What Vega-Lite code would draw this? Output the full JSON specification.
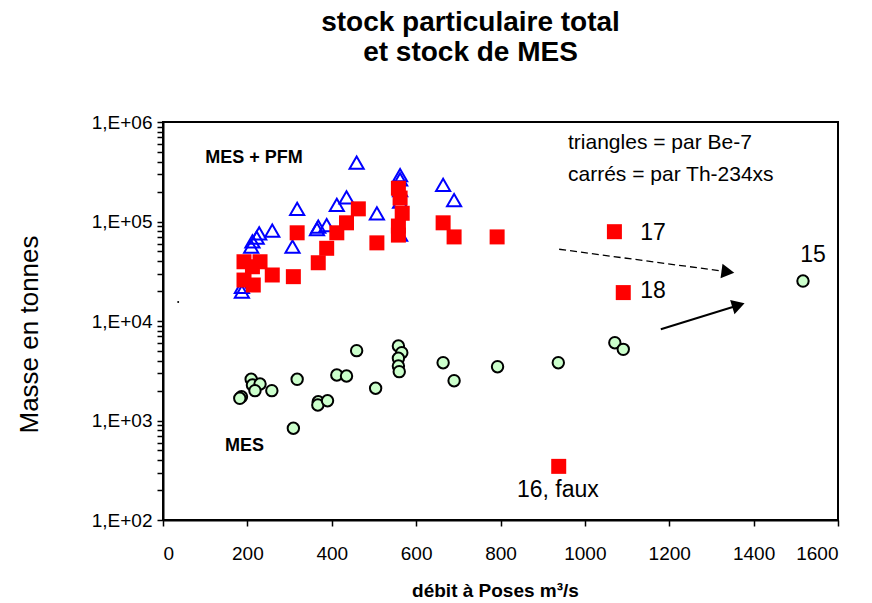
{
  "$schema": "https://vega.github.io/schema/vega-lite/v6.json",
  "width": 675,
  "height": 398,
  "autosize": {"type": "none"},
  "padding": {"left": 163, "top": 122, "right": 34, "bottom": 83},
  "background": "white",
  "config": {
    "font": "Liberation Sans",
    "view": {"stroke": "black", "strokeWidth": 2},
    "axis": {"grid": false, "domainColor": "black", "domainWidth": 2, "tickColor": "black", "tickWidth": 1.5, "labelColor": "black", "titleColor": "black", "labelFont": "Liberation Sans", "titleFont": "Liberation Sans"}
  },
  "title": {
    "text": ["stock particulaire total", "et stock de MES"],
    "font": "Liberation Sans",
    "fontSize": 28,
    "fontWeight": "bold",
    "color": "black",
    "anchor": "middle",
    "dx": -30,
    "offset": 46,
    "lineHeight": 30
  },
  "datasets": {
    "points": [
      {"series": "Be-7", "x": 459, "y": 390000},
      {"series": "Be-7", "x": 562, "y": 293000},
      {"series": "Be-7", "x": 562, "y": 265000},
      {"series": "Be-7", "x": 562, "y": 207000},
      {"series": "Be-7", "x": 562, "y": 158000},
      {"series": "Be-7", "x": 562, "y": 74000},
      {"series": "Be-7", "x": 664, "y": 233000},
      {"series": "Be-7", "x": 690, "y": 164000},
      {"series": "Be-7", "x": 435, "y": 175000},
      {"series": "Be-7", "x": 412, "y": 147000},
      {"series": "Be-7", "x": 507, "y": 121000},
      {"series": "Be-7", "x": 318, "y": 134000},
      {"series": "Be-7", "x": 388, "y": 92000},
      {"series": "Be-7", "x": 368, "y": 89000},
      {"series": "Be-7", "x": 365, "y": 84000},
      {"series": "Be-7", "x": 307, "y": 56000},
      {"series": "Be-7", "x": 259, "y": 81000},
      {"series": "Be-7", "x": 228, "y": 76000},
      {"series": "Be-7", "x": 222, "y": 69000},
      {"series": "Be-7", "x": 212, "y": 63000},
      {"series": "Be-7", "x": 209, "y": 56000},
      {"series": "Be-7", "x": 187, "y": 22000},
      {"series": "Be-7", "x": 187, "y": 19700},
      {"series": "Th-234xs", "x": 192, "y": 39400},
      {"series": "Th-234xs", "x": 230, "y": 39400},
      {"series": "Th-234xs", "x": 212, "y": 35100},
      {"series": "Th-234xs", "x": 192, "y": 25800},
      {"series": "Th-234xs", "x": 214, "y": 23000},
      {"series": "Th-234xs", "x": 259, "y": 29000},
      {"series": "Th-234xs", "x": 309, "y": 27900},
      {"series": "Th-234xs", "x": 318, "y": 77000},
      {"series": "Th-234xs", "x": 368, "y": 38500},
      {"series": "Th-234xs", "x": 388, "y": 53800},
      {"series": "Th-234xs", "x": 412, "y": 77000},
      {"series": "Th-234xs", "x": 435, "y": 97000},
      {"series": "Th-234xs", "x": 463, "y": 134000},
      {"series": "Th-234xs", "x": 507, "y": 61000},
      {"series": "Th-234xs", "x": 558, "y": 216000},
      {"series": "Th-234xs", "x": 562, "y": 172000},
      {"series": "Th-234xs", "x": 567, "y": 121000},
      {"series": "Th-234xs", "x": 558, "y": 90000},
      {"series": "Th-234xs", "x": 558, "y": 73000},
      {"series": "Th-234xs", "x": 664, "y": 97000},
      {"series": "Th-234xs", "x": 690, "y": 70000},
      {"series": "Th-234xs", "x": 792, "y": 70000},
      {"series": "Th-234xs", "x": 1070, "y": 79000},
      {"series": "Th-234xs", "x": 1091, "y": 19300},
      {"series": "Th-234xs", "x": 938, "y": 346},
      {"series": "MES", "x": 186, "y": 1734},
      {"series": "MES", "x": 182, "y": 1671},
      {"series": "MES", "x": 209, "y": 2594},
      {"series": "MES", "x": 212, "y": 2275},
      {"series": "MES", "x": 230, "y": 2328},
      {"series": "MES", "x": 218, "y": 1995},
      {"series": "MES", "x": 258, "y": 1995},
      {"series": "MES", "x": 318, "y": 2594},
      {"series": "MES", "x": 309, "y": 836},
      {"series": "MES", "x": 368, "y": 1545},
      {"series": "MES", "x": 367, "y": 1432},
      {"series": "MES", "x": 390, "y": 1581},
      {"series": "MES", "x": 412, "y": 2864},
      {"series": "MES", "x": 435, "y": 2800},
      {"series": "MES", "x": 459, "y": 5035},
      {"series": "MES", "x": 504, "y": 2108},
      {"series": "MES", "x": 558, "y": 5610},
      {"series": "MES", "x": 566, "y": 4808},
      {"series": "MES", "x": 558, "y": 4217},
      {"series": "MES", "x": 558, "y": 3532},
      {"series": "MES", "x": 560, "y": 3097},
      {"series": "MES", "x": 664, "y": 3811},
      {"series": "MES", "x": 690, "y": 2512},
      {"series": "MES", "x": 793, "y": 3475},
      {"series": "MES", "x": 937, "y": 3811},
      {"series": "MES", "x": 1071, "y": 6053},
      {"series": "MES", "x": 1091, "y": 5190},
      {"series": "MES", "x": 1517, "y": 25200}
    ],
    "arrows": [
      {"arrow": "dashed", "x": 939, "y": 52600},
      {"arrow": "dashed", "x": 1339, "y": 31200},
      {"arrow": "solid", "x": 1180, "y": 8260},
      {"arrow": "solid", "x": 1364, "y": 14400}
    ],
    "labels": [
      {"style": "note", "label": "triangles = par Be-7", "x": 960, "y": 615000},
      {"style": "note", "label": "carrés = par Th-234xs", "x": 960, "y": 293000},
      {"style": "num", "label": "17", "x": 1131, "y": 76600},
      {"style": "num", "label": "18", "x": 1131, "y": 20000},
      {"style": "center", "label": "15", "x": 1541, "y": 46000},
      {"style": "center", "label": "16, faux", "x": 936, "y": 200},
      {"style": "bold", "label": "MES + PFM", "x": 100, "y": 435000},
      {"style": "bold", "label": "MES", "x": 147, "y": 555}
    ],
    "stray": [
      {"x": 36, "y": 15500}
    ]
  },
  "layer": [
    {
      "data": {"name": "points"},
      "transform": [{"filter": "datum.series === 'Be-7'"}],
      "mark": {"type": "point", "shape": "triangle-up", "filled": false, "stroke": "#0000ff", "strokeWidth": 2, "size": 200, "opacity": 1},
      "encoding": {
        "x": {"field": "x", "type": "quantitative", "scale": {"domain": [0, 1600], "nice": false},
          "axis": {"values": [0, 200, 400, 600, 800, 1000, 1200, 1400, 1600], "format": "d", "labelFontSize": 19, "tickSize": 6, "labelPadding": 18, "title": "débit à Poses m³/s", "titleFontSize": 19, "titleFontWeight": "bold", "titleX": 332, "titleY": 70, "titleBaseline": "middle"}},
        "y": {"field": "y", "type": "quantitative", "scale": {"type": "log", "domain": [100, 1000000], "nice": false},
          "axis": {"values": [100,200,300,400,500,600,700,800,900,1000,2000,3000,4000,5000,6000,7000,8000,9000,10000,20000,30000,40000,50000,60000,70000,80000,90000,100000,200000,300000,400000,500000,600000,700000,800000,900000,1000000],
            "labelExpr": "abs(log(datum.value)/LN10 - round(log(datum.value)/LN10)) < 0.001 ? '1,E+0' + round(log(datum.value)/LN10) : ''",
            "labelFontSize": 19, "tickSize": 6, "labelPadding": 5, "labelOverlap": false,
            "title": "Masse en tonnes", "titleFontSize": 26, "titleFontWeight": "normal", "titleX": -134, "titleY": 212, "titleAngle": -90, "titleAlign": "center", "titleBaseline": "middle"}}
      }
    },
    {
      "data": {"name": "points"},
      "transform": [{"filter": "datum.series === 'Th-234xs'"}],
      "mark": {"type": "square", "filled": true, "color": "#ff0000", "size": 225, "opacity": 1},
      "encoding": {"x": {"field": "x", "type": "quantitative"}, "y": {"field": "y", "type": "quantitative"}}
    },
    {
      "data": {"name": "points"},
      "transform": [{"filter": "datum.series === 'MES'"}],
      "mark": {"type": "circle", "fill": "#ccffcc", "stroke": "black", "strokeWidth": 2, "size": 130, "opacity": 1},
      "encoding": {"x": {"field": "x", "type": "quantitative"}, "y": {"field": "y", "type": "quantitative"}}
    },
    {
      "data": {"name": "arrows"},
      "transform": [{"filter": "datum.arrow === 'dashed'"}],
      "mark": {"type": "line", "color": "black", "strokeWidth": 1.3, "strokeDash": [7, 4]},
      "encoding": {"x": {"field": "x", "type": "quantitative"}, "y": {"field": "y", "type": "quantitative"}}
    },
    {
      "data": {"name": "arrows"},
      "transform": [{"filter": "datum.arrow === 'solid'"}],
      "mark": {"type": "line", "color": "black", "strokeWidth": 2},
      "encoding": {"x": {"field": "x", "type": "quantitative"}, "y": {"field": "y", "type": "quantitative"}}
    },
    {
      "data": {"name": "arrows"},
      "transform": [{"filter": "datum.arrow === 'dashed' && datum.x > 1300"}],
      "mark": {"type": "point", "shape": "triangle-right", "filled": true, "color": "black", "size": 220, "angle": 7.6, "opacity": 1},
      "encoding": {"x": {"field": "x", "type": "quantitative"}, "y": {"field": "y", "type": "quantitative"}}
    },
    {
      "data": {"name": "arrows"},
      "transform": [{"filter": "datum.arrow === 'solid' && datum.x > 1300"}],
      "mark": {"type": "point", "shape": "triangle-right", "filled": true, "color": "black", "size": 220, "angle": -17.2, "opacity": 1},
      "encoding": {"x": {"field": "x", "type": "quantitative"}, "y": {"field": "y", "type": "quantitative"}}
    },
    {
      "data": {"name": "stray"},
      "mark": {"type": "circle", "color": "black", "size": 4, "opacity": 1},
      "encoding": {"x": {"field": "x", "type": "quantitative"}, "y": {"field": "y", "type": "quantitative"}}
    },
    {
      "data": {"name": "labels"},
      "transform": [{"filter": "datum.style === 'note'"}],
      "mark": {"type": "text", "align": "left", "baseline": "middle", "fontSize": 21, "font": "Liberation Sans", "color": "black"},
      "encoding": {"x": {"field": "x", "type": "quantitative"}, "y": {"field": "y", "type": "quantitative"}, "text": {"field": "label"}}
    },
    {
      "data": {"name": "labels"},
      "transform": [{"filter": "datum.style === 'num'"}],
      "mark": {"type": "text", "align": "left", "baseline": "middle", "fontSize": 23, "font": "Liberation Sans", "color": "black"},
      "encoding": {"x": {"field": "x", "type": "quantitative"}, "y": {"field": "y", "type": "quantitative"}, "text": {"field": "label"}}
    },
    {
      "data": {"name": "labels"},
      "transform": [{"filter": "datum.style === 'center'"}],
      "mark": {"type": "text", "align": "center", "baseline": "middle", "fontSize": 23, "font": "Liberation Sans", "color": "black"},
      "encoding": {"x": {"field": "x", "type": "quantitative"}, "y": {"field": "y", "type": "quantitative"}, "text": {"field": "label"}}
    },
    {
      "data": {"name": "labels"},
      "transform": [{"filter": "datum.style === 'bold'"}],
      "mark": {"type": "text", "align": "left", "baseline": "middle", "fontSize": 18, "fontWeight": "bold", "font": "Liberation Sans", "color": "black"},
      "encoding": {"x": {"field": "x", "type": "quantitative"}, "y": {"field": "y", "type": "quantitative"}, "text": {"field": "label"}}
    }
  ]
}
